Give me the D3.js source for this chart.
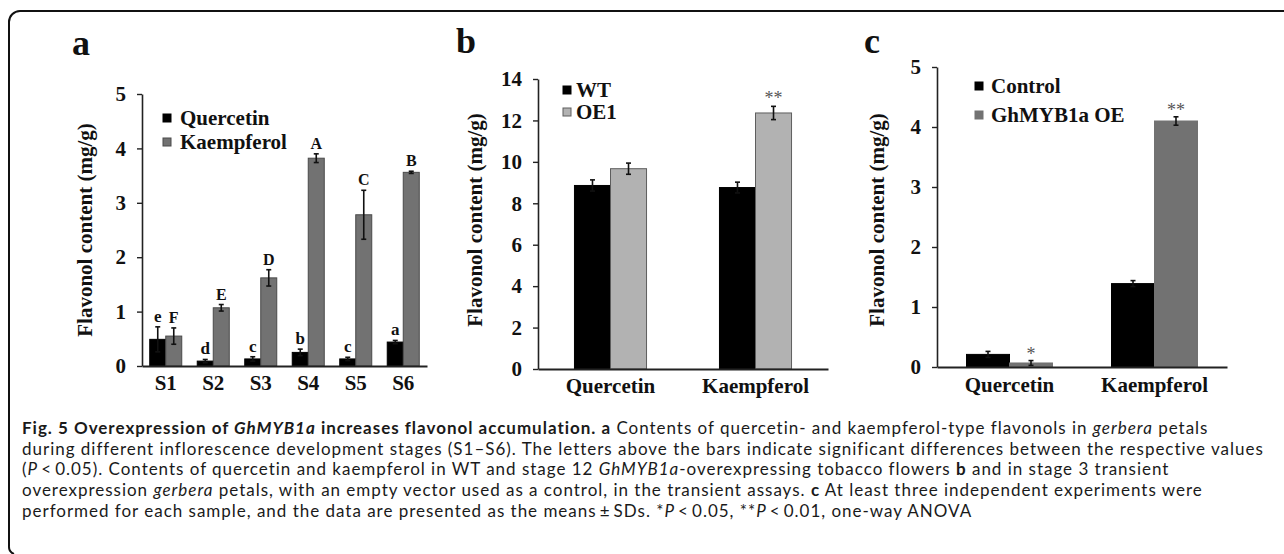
<!DOCTYPE html>
<html>
<head>
<meta charset="utf-8">
<script src="https://cdn.jsdelivr.net/npm/d3@7/dist/d3.min.js"></script>
<style>
  html, body { margin: 0; padding: 0; background: #fff; }
  svg { display: block; }
  .serif { font-family: "Liberation Serif", "Times New Roman", serif; font-weight: bold; }
  .caption { font-family: Lato, "Open Sans", sans-serif; fill: #1a1a1a; }
</style>
</head>
<body>
<script>
// Panel a: flavonols in gerbera petals through stages S1-S6
var stagesA = ["S1", "S2", "S3", "S4", "S5", "S6"];
var quercetinA = [0.49, 0.09, 0.13, 0.25, 0.13, 0.44];
var quercetinErrA = [0.23, 0.03, 0.04, 0.06, 0.03, 0.03];
var kaempferolA = [0.55, 1.07, 1.62, 3.82, 2.78, 3.56];
var kaempferolErrA = [0.15, 0.06, 0.15, 0.08, 0.45, 0.02];
var quercetinLettersA = ["e", "d", "c", "b", "c", "a"];
var kaempferolLettersA = ["F", "E", "D", "A", "C", "B"];
var ticksA = [0, 1, 2, 3, 4, 5];

// Panel b: WT vs OE1 tobacco flowers
var compoundsB = ["Quercetin", "Kaempferol"];
var wtB = [8.86, 8.76];
var wtErrB = [0.27, 0.26];
var oe1B = [9.67, 12.36];
var oe1ErrB = [0.27, 0.32];
var oe1SigB = ["", "**"];
var ticksB = [0, 2, 4, 6, 8, 10, 12, 14];

// Panel c: transient overexpression in gerbera petals
var compoundsC = ["Quercetin", "Kaempferol"];
var controlC = [0.21, 1.39];
var controlErrC = [0.05, 0.05];
var ghOeC = [0.067, 4.10];
var ghOeErrC = [0.04, 0.07];
var ghOeSigC = ["*", "**"];
var ticksC = [0, 1, 2, 3, 4, 5];

var W = 1284, H = 554;
var svg = d3.select("body").append("svg").attr("width", W).attr("height", H);

// Frame (top + left border with rounded corner)
svg.append("path")
    .attr("d", "M1284,11 H20 A11,11 0 0 0 9,22 V546 A8,8 0 0 0 14,554")
    .attr("fill", "none")
    .attr("stroke", "#111")
    .attr("stroke-width", 2);

function drawPanel(p) {
    var g = svg.append("g");
    var x = d3.scaleBand().domain(p.categories).range(p.xRange)
        .paddingInner(p.pad).paddingOuter(p.pad / 2);
    var sub = d3.scaleBand().domain(p.series.map(function (s) { return s.name; }))
        .range([0, x.bandwidth()]);
    var y = d3.scaleLinear().domain(p.yDomain).range(p.yRange);

    // Bars + error bars per series
    p.series.forEach(function (s) {
        var sg = g.append("g");
        sg.selectAll("rect")
            .data(s.values)
            .enter()
            .append("rect")
            .attr("x", function (d, i) { return x(p.categories[i]) + sub(s.name); })
            .attr("y", function (d) { return y(d); })
            .attr("width", sub.bandwidth())
            .attr("height", function (d) { return y(0) - y(d); })
            .attr("fill", s.fill)
            .attr("stroke", s.stroke)
            .attr("stroke-width", 1);
        var cx = function (i) { return x(p.categories[i]) + sub(s.name) + sub.bandwidth() / 2; };
        var eg = sg.append("g").attr("stroke", "#111").attr("stroke-width", 1.6);
        s.values.forEach(function (v, i) {
            var e = s.errors[i];
            eg.append("line").attr("x1", cx(i)).attr("x2", cx(i))
                .attr("y1", y(v - e)).attr("y2", y(v + e));
            [v - e, v + e].forEach(function (t) {
                eg.append("line").attr("x1", cx(i) - 2.5).attr("x2", cx(i) + 2.5)
                    .attr("y1", y(t)).attr("y2", y(t));
            });
            if (s.marks && s.marks[i]) {
                sg.append("text")
                    .attr("class", s.markClass)
                    .attr("x", cx(i))
                    .attr("y", y(v + e) - s.markGap)
                    .attr("text-anchor", "middle")
                    .attr("font-size", s.markSize)
                    .attr("fill", s.markColor)
                    .text(s.marks[i]);
            }
        });
    });

    // Y axis
    var ya = g.append("g")
        .attr("transform", "translate(" + p.xRange[0] + ",0)")
        .call(d3.axisLeft(y).tickValues(p.ticks).tickFormat(d3.format("d"))
            .tickSize(5).tickSizeOuter(0).tickPadding(11));
    ya.selectAll("text").attr("class", "serif").attr("font-size", 21).attr("fill", "#111");
    ya.select(".domain").attr("stroke", "#222").attr("stroke-width", 1.6);
    ya.selectAll(".tick line").attr("stroke", "#222").attr("stroke-width", 1.4);

    // X axis
    var xa = g.append("g")
        .attr("transform", "translate(0," + y(0) + ")")
        .call(d3.axisBottom(x).tickSize(0).tickSizeOuter(0).tickPadding(p.xPad));
    xa.selectAll("text").attr("class", "serif").attr("font-size", 21).attr("fill", "#111");
    xa.select(".domain").attr("stroke", "#222").attr("stroke-width", 1.8);

    // Y axis title
    g.append("text")
        .attr("class", "serif")
        .attr("transform", "translate(" + p.titleX + "," + p.titleY + ") rotate(-90)")
        .attr("text-anchor", "middle")
        .attr("font-size", 21)
        .attr("fill", "#111")
        .text("Flavonol content (mg/g)");

    // Panel letter
    g.append("text")
        .attr("class", "serif")
        .attr("x", p.letterX).attr("y", p.letterY)
        .attr("font-size", 36)
        .attr("fill", "#111")
        .text(p.letter);

    // Legend
    p.series.forEach(function (s, i) {
        var ly = p.legendY + i * p.legendStep;
        g.append("rect")
            .attr("x", p.legendX - 4).attr("y", ly - 4)
            .attr("width", 8).attr("height", 8)
            .attr("fill", s.fill)
            .attr("stroke", s.stroke)
            .attr("stroke-width", 1);
        g.append("text")
            .attr("class", "serif")
            .attr("x", p.legendX + p.legendTextDx).attr("y", ly)
            .attr("dy", "0.35em")
            .attr("font-size", 21)
            .attr("fill", "#111")
            .text(s.name);
    });
}

drawPanel({
    letter: "a", letterX: 72, letterY: 55,
    categories: stagesA, xRange: [142, 427], pad: 0.326, xPad: 9,
    yDomain: [0, 5], yRange: [366, 94], ticks: ticksA,
    titleX: 92, titleY: 230,
    legendX: 167, legendY: 118, legendStep: 24, legendTextDx: 13,
    series: [
        { name: "Quercetin", values: quercetinA, errors: quercetinErrA, fill: "#000", stroke: "#000",
          marks: quercetinLettersA, markClass: "serif", markSize: 17, markGap: 5, markColor: "#111" },
        { name: "Kaempferol", values: kaempferolA, errors: kaempferolErrA, fill: "#727272", stroke: "#4a4a4a",
          marks: kaempferolLettersA, markClass: "serif", markSize: 16, markGap: 5, markColor: "#111" }
    ]
});

drawPanel({
    letter: "b", letterX: 456, letterY: 53,
    categories: compoundsB, xRange: [538, 828], pad: 0.503, xPad: 9,
    yDomain: [0, 14], yRange: [369, 79], ticks: ticksB,
    titleX: 482, titleY: 220,
    legendX: 567, legendY: 90, legendStep: 22, legendTextDx: 9,
    series: [
        { name: "WT", values: wtB, errors: wtErrB, fill: "#000", stroke: "#000" },
        { name: "OE1", values: oe1B, errors: oe1ErrB, fill: "#b2b2b2", stroke: "#5e5e5e",
          marks: oe1SigB, markClass: "", markSize: 18, markGap: 2, markColor: "#555" }
    ]
});

drawPanel({
    letter: "c", letterX: 864, letterY: 53,
    categories: compoundsC, xRange: [937, 1227], pad: 0.407, xPad: 10,
    yDomain: [0, 5], yRange: [367, 67], ticks: ticksC,
    titleX: 884, titleY: 220,
    legendX: 979, legendY: 86, legendStep: 29, legendTextDx: 12,
    series: [
        { name: "Control", values: controlC, errors: controlErrC, fill: "#000", stroke: "#000" },
        { name: "GhMYB1a OE", values: ghOeC, errors: ghOeErrC, fill: "#727272", stroke: "#727272",
          marks: ghOeSigC, markClass: "", markSize: 18, markGap: 1, markColor: "#555" }
    ]
});

// Caption
var captionLines = [
    [["Fig. 5 Overexpression of ", "b"], ["GhMYB1a", "bi"], [" increases flavonol accumulation. ", "b"], ["a", "b"],
     [" Contents of quercetin- and kaempferol-type flavonols in ", "n"], ["gerbera", "i"], [" petals", "n"]],
    [["during different inflorescence development stages (S1\u2013S6). The letters above the bars indicate significant differences between the respective values", "n"]],
    [["(", "n"], ["P", "i"], ["\u2009<\u20090.05). Contents of quercetin and kaempferol in WT and stage 12 ", "n"], ["GhMYB1a", "i"],
     ["-overexpressing tobacco flowers ", "n"], ["b", "b"], [" and in stage 3 transient", "n"]],
    [["overexpression ", "n"], ["gerbera", "i"], [" petals, with an empty vector used as a control, in the transient assays. ", "n"],
     ["c", "b"], [" At least three independent experiments were", "n"]],
    [["performed for each sample, and the data are presented as the means\u2009\u00b1\u2009SDs. *", "n"], ["P", "i"], ["\u2009<\u20090.05, **", "n"],
     ["P", "i"], ["\u2009<\u20090.01, one-way ANOVA", "n"]]
];

var cap = svg.append("g").attr("class", "caption");
var capTexts = captionLines.map(function (line, i) {
    var t = cap.append("text").attr("x", 22).attr("y", 434 + i * 20.7).attr("font-size", 16);
    line.forEach(function (seg) {
        t.append("tspan")
            .attr("font-weight", seg[1].indexOf("b") >= 0 ? "bold" : "normal")
            .attr("font-style", seg[1].indexOf("i") >= 0 ? "italic" : "normal")
            .text(seg[0]);
    });
    return t;
});
// scale the caption (capped so lines don't collide), then spread letters
// so the second line spans the reference width
var natural = capTexts[1].node().getComputedTextLength();
var fs = Math.min(17, 16 * 1240 / natural);
capTexts.forEach(function (t) { t.attr("font-size", fs); });
var fitted = capTexts[1].node().getComputedTextLength();
var spacing = Math.max(0, (1240 - fitted) / captionLines[1][0][0].length);
capTexts.forEach(function (t) { t.attr("letter-spacing", spacing); });
</script>
</body>
</html>
